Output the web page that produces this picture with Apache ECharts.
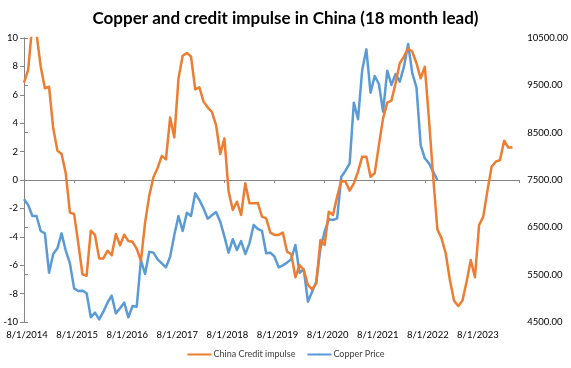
<!DOCTYPE html>
<html>
<head>
<meta charset="utf-8">
<script src="https://cdn.jsdelivr.net/npm/echarts@6/dist/echarts.min.js"></script>
<style>
html,body{margin:0;padding:0;background:#fff;}
#c{width:571px;height:368px;}
</style>
</head>
<body>
<div id="c"></div>
<script>
// Tick labels on the horizontal axis (one every 12 months, starting Aug 2014)
const tickLabels = ['8/1/2014','8/1/2015','8/1/2016','8/1/2017','8/1/2018','8/1/2019','8/1/2020','8/1/2021','8/1/2022','8/1/2023'];

// China credit impulse (left axis, % of GDP), monthly from Aug 2014, shifted 18 months
const creditImpulse = [
  6.85, 7.75, 11.0, 10.3, 7.98, 6.46, 6.57, 3.64, 2.07, 1.83,
  0.47, -2.30, -2.39, -4.46, -6.64, -6.74, -3.57, -3.87, -5.52, -5.52,
  -4.98, -5.3, -3.8, -4.6, -3.85, -4.3, -4.35, -4.85, -5.7, -3.0,
  -1.1, 0.2, 0.85, 1.7, 1.45, 4.4, 3.0, 7.15, 8.75, 8.95,
  8.7, 6.38, 6.53, 5.52, 5.12, 4.79, 3.87, 1.83, 2.93, -0.8,
  -2.11, -1.53, -2.46, -0.23, -1.64, -1.64, -1.62, -2.58, -2.70, -3.71,
  -3.87, -3.87, -3.71, -5.05, -5.21, -6.85, -5.99, -6.34, -7.39, -7.70,
  -7.28, -4.23, -4.58, -2.23, -2.46, -1.17, -0.05, -0.12, -0.75, -0.23,
  0.59, 1.64, 1.64, 0.23, 0.47, 2.46, 4.34, 5.45, 5.59, 6.81,
  8.22, 8.69, 9.27, 9.04, 8.22, 7.16, 7.98, 4.23, 0.23, -3.47,
  -4.11, -5.16, -7.04, -8.50, -8.87, -8.50, -7.16, -5.63, -6.85, -3.17,
  -2.58, -0.75, 0.94, 1.29, 1.41, 2.77, 2.28, 2.28
];

// Copper price (right axis, USD/t), monthly from Aug 2014
const copperPrice = [
  7092, 6972, 6739, 6739, 6423, 6373, 5542, 5937, 6056, 6373,
  6007, 5739, 5211, 5155, 5162, 5106, 4599, 4697, 4556, 4718,
  4908, 5056, 4683, 4789, 4908, 4599, 4838, 4824, 5810, 5514,
  5986, 5965, 5824, 5739, 5655, 5880, 6338, 6739, 6423, 6810,
  6739, 7218, 7077, 6901, 6683, 6754, 6824, 6620, 6303, 5965,
  6247, 6021, 6211, 5937, 6162, 6549, 6465, 6423, 5951, 5965,
  5880, 5655, 5697, 5754, 5824, 6127, 5542, 5613, 4930, 5141,
  5352, 6056, 6408, 6669, 6655, 6690, 7570, 7697, 7852, 9134,
  8782, 9824, 10260, 9345, 9697, 9528, 8944, 9810, 9507, 9739,
  9577, 9894, 10373, 9753, 9458, 8239, 7958, 7852, 7676, 7500
];

const FONT = 'Lato, "Open Sans", sans-serif';
const axisGray = '#868686';

const chart = echarts.init(document.getElementById('c'), null, {renderer: 'canvas'});
chart.setOption({
  animation: false,
  backgroundColor: '#ffffff',
  title: {
    text: 'Copper and credit impulse in China (18 month lead)',
    left: 'center',
    top: 5,
    textStyle: {fontFamily: FONT, fontSize: 17, fontWeight: 'bold', color: '#000000'}
  },
  legend: {
    bottom: 4,
    left: 'center',
    itemWidth: 24,
    itemHeight: 2,
    itemGap: 11,
    textStyle: {fontFamily: FONT, fontSize: 9, color: '#404040', padding: [0,0,0,-3]},
    data: ['China Credit impulse', 'Copper Price']
  },
  grid: {left: 24, right: 49, top: 38, bottom: 46, containLabel: false},
  xAxis: [
    {
      type: 'value', min: 0, max: 118.6, interval: 12,
      axisLine: {show: false}, axisTick: {show: false}, splitLine: {show: false},
      axisLabel: {
        fontFamily: FONT, fontSize: 9.5, color: '#000000', margin: 8, showMaxLabel: false,
        padding: [0,0,0,6],
        formatter: v => (v % 12 === 0 && v / 12 < tickLabels.length) ? tickLabels[v / 12] : ''
      }
    },
    {
      type: 'value', min: 0, max: 118.6, interval: 12, position: 'bottom',
      axisLine: {show: true, onZero: true, onZeroAxisIndex: 0, lineStyle: {color: axisGray, width: 1}},
      axisTick: {show: true, length: 3, lineStyle: {color: axisGray}},
      axisLabel: {show: false}, splitLine: {show: false}
    }
  ],
  yAxis: [
    {
      type: 'value', min: -10, max: 10, interval: 2, position: 'left',
      axisLine: {show: true, lineStyle: {color: axisGray, width: 1}},
      axisTick: {show: true, length: 4, lineStyle: {color: axisGray}},
      splitLine: {show: false},
      axisLabel: {fontFamily: FONT, fontSize: 9.5, color: '#000000', margin: 6}
    },
    {
      type: 'value', min: 4500, max: 10500, interval: 1000, position: 'right',
      axisLine: {show: true, lineStyle: {color: axisGray, width: 1}},
      axisTick: {show: true, length: 4, lineStyle: {color: axisGray}},
      splitLine: {show: false},
      axisLabel: {fontFamily: FONT, fontSize: 9.5, color: '#000000', margin: 8,
        formatter: v => v.toFixed(2)}
    }
  ],
  series: [
    {
      name: 'China Credit impulse', type: 'line', xAxisIndex: 0, yAxisIndex: 0,
      symbol: 'none', clip: true, z: 3,
      lineStyle: {color: '#ED7D31', width: 2.5, join: 'round'},
      itemStyle: {color: '#ED7D31'},
      data: creditImpulse.map((v, i) => [i, v])
    },
    {
      name: 'Copper Price', type: 'line', xAxisIndex: 0, yAxisIndex: 1,
      symbol: 'none', clip: true, z: 2,
      lineStyle: {color: '#5B9BD5', width: 2.5, join: 'round'},
      itemStyle: {color: '#5B9BD5'},
      data: copperPrice.map((v, i) => [i, v])
    }
  ]
});
</script>
</body>
</html>
